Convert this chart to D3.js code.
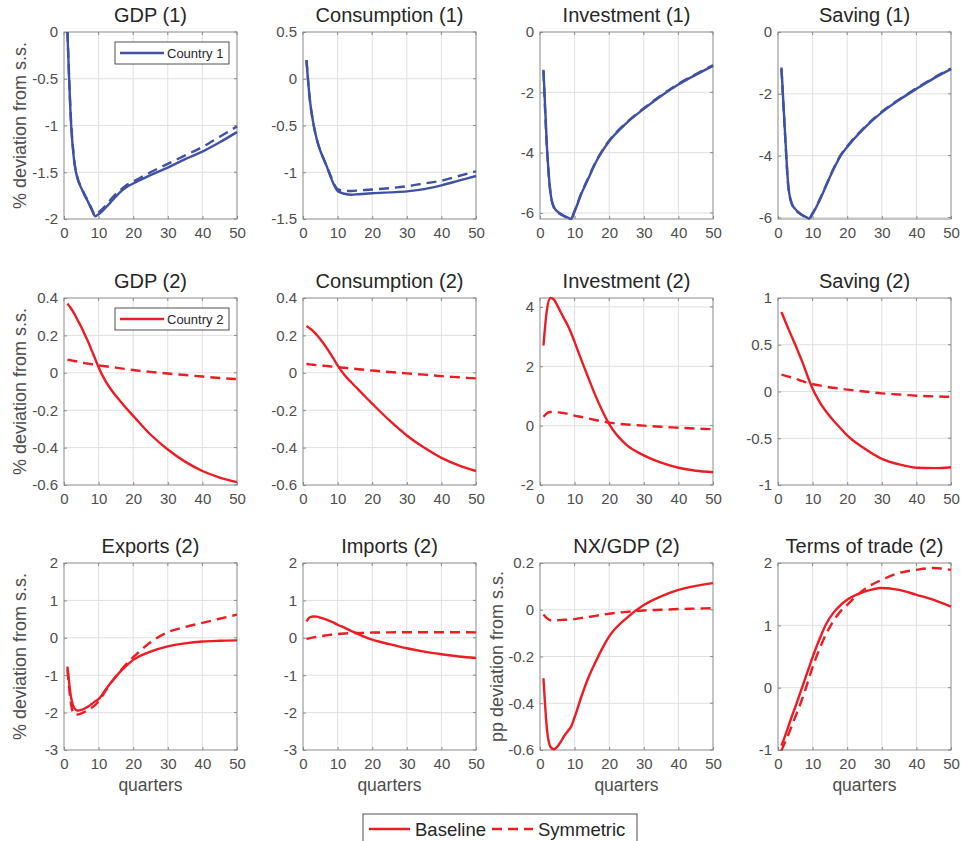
<!DOCTYPE html>
<html><head><meta charset="utf-8">
<script src="https://cdn.jsdelivr.net/npm/d3@7"></script>
<style>
body{margin:0;background:#fff;}
svg{display:block;font-family:"Liberation Sans",Arial,Helvetica,sans-serif;}
</style></head>
<body><svg id="c" width="961" height="841"></svg>
<script>
const quarters = [1,2,3,4,5,6,7,8,9,10,12,14,16,18,20,25,30,35,40,45,50];
const xTicks = [0,10,20,30,40,50];

const titles = ["GDP (1)","Consumption (1)","Investment (1)","Saving (1)",
                "GDP (2)","Consumption (2)","Investment (2)","Saving (2)",
                "Exports (2)","Imports (2)","NX/GDP (2)","Terms of trade (2)"];

const yDomains = [[-2,0],[-1.5,0.5],[-6.2,0],[-6.05,0],
                  [-0.6,0.4],[-0.6,0.4],[-2,4.3],[-1,1],
                  [-3,2],[-3,2],[-0.6,0.2],[-1,2]];
const yTicks = [[-2,-1.5,-1,-0.5,0],[-1.5,-1,-0.5,0,0.5],[-6,-4,-2,0],[-6,-4,-2,0],
                [-0.6,-0.4,-0.2,0,0.2,0.4],[-0.6,-0.4,-0.2,0,0.2,0.4],[-2,0,2,4],[-1,-0.5,0,0.5,1],
                [-3,-2,-1,0,1,2],[-3,-2,-1,0,1,2],[-0.6,-0.4,-0.2,0,0.2],[-1,0,1,2]];

// Baseline (solid)
const gdp1Base  = [0,-0.95,-1.4,-1.58,-1.67,-1.75,-1.82,-1.9,-1.97,-1.95,-1.88,-1.8,-1.72,-1.66,-1.62,-1.53,-1.45,-1.36,-1.28,-1.18,-1.07];
const cons1Base = [0.2,-0.23,-0.48,-0.65,-0.77,-0.86,-0.95,-1.05,-1.14,-1.2,-1.23,-1.24,-1.235,-1.23,-1.225,-1.215,-1.205,-1.18,-1.14,-1.09,-1.04];
const inv1Base  = [-1.25,-3.8,-5.3,-5.8,-5.95,-6.03,-6.1,-6.15,-6.2,-5.95,-5.35,-4.85,-4.35,-3.95,-3.62,-3.02,-2.55,-2.12,-1.74,-1.42,-1.12];
const sav1Base  = [-1.15,-3.2,-5.0,-5.55,-5.73,-5.84,-5.92,-5.98,-6.04,-5.88,-5.45,-4.95,-4.45,-4.02,-3.72,-3.1,-2.6,-2.2,-1.84,-1.5,-1.2];
const gdp2Base  = [0.37,0.345,0.315,0.28,0.245,0.205,0.165,0.12,0.075,0.03,-0.045,-0.1,-0.145,-0.19,-0.23,-0.33,-0.41,-0.475,-0.525,-0.56,-0.585];
const cons2Base = [0.25,0.237,0.222,0.202,0.18,0.155,0.128,0.1,0.07,0.04,-0.012,-0.052,-0.09,-0.128,-0.165,-0.255,-0.335,-0.4,-0.455,-0.495,-0.525];
const inv2Base  = [2.7,3.9,4.3,4.25,4.05,3.82,3.6,3.38,3.12,2.82,2.2,1.6,1.02,0.5,0.05,-0.65,-1.0,-1.25,-1.42,-1.52,-1.57];
const sav2Base  = [0.85,0.76,0.67,0.585,0.5,0.41,0.32,0.22,0.12,0.03,-0.11,-0.22,-0.31,-0.39,-0.47,-0.61,-0.72,-0.78,-0.815,-0.82,-0.81];
const exp2Base  = [-0.77,-1.57,-1.88,-1.95,-1.93,-1.89,-1.84,-1.77,-1.7,-1.64,-1.39,-1.15,-0.93,-0.75,-0.59,-0.37,-0.23,-0.15,-0.1,-0.08,-0.07];
const imp2Base  = [0.44,0.55,0.57,0.565,0.54,0.51,0.48,0.44,0.4,0.35,0.27,0.18,0.1,0.02,-0.05,-0.17,-0.28,-0.37,-0.44,-0.5,-0.54];
const nx2Base   = [-0.293,-0.51,-0.586,-0.597,-0.586,-0.565,-0.54,-0.52,-0.5,-0.46,-0.37,-0.29,-0.225,-0.165,-0.114,-0.036,0.02,0.057,0.085,0.102,0.114];
const tot2Base  = [-0.93,-0.78,-0.62,-0.46,-0.31,-0.15,0.01,0.17,0.33,0.49,0.78,1.03,1.2,1.32,1.41,1.54,1.6,1.57,1.49,1.41,1.3];

// Symmetric (dashed)
const gdp1Sym  = [0,-0.93,-1.38,-1.57,-1.66,-1.74,-1.81,-1.89,-1.96,-1.93,-1.86,-1.77,-1.7,-1.64,-1.6,-1.5,-1.41,-1.32,-1.23,-1.12,-1.01];
const cons1Sym = [0.2,-0.23,-0.48,-0.65,-0.77,-0.86,-0.95,-1.04,-1.13,-1.18,-1.2,-1.2,-1.195,-1.19,-1.185,-1.17,-1.15,-1.12,-1.09,-1.04,-0.99];
const inv1Sym  = [-1.3,-3.85,-5.32,-5.82,-5.97,-6.05,-6.11,-6.16,-6.18,-5.93,-5.33,-4.83,-4.33,-3.93,-3.6,-3.0,-2.53,-2.1,-1.72,-1.4,-1.1];
const sav1Sym  = [-1.2,-3.25,-5.03,-5.57,-5.75,-5.85,-5.93,-5.99,-6.02,-5.86,-5.43,-4.93,-4.43,-4.0,-3.7,-3.08,-2.58,-2.18,-1.82,-1.48,-1.18];
const gdp2Sym  = [0.07,0.067,0.063,0.06,0.056,0.052,0.049,0.046,0.043,0.04,0.035,0.03,0.025,0.02,0.015,0.005,-0.004,-0.012,-0.02,-0.028,-0.034];
const cons2Sym = [0.047,0.045,0.043,0.041,0.04,0.038,0.036,0.034,0.032,0.03,0.027,0.023,0.019,0.016,0.012,0.004,-0.003,-0.01,-0.018,-0.024,-0.03];
const inv2Sym  = [0.3,0.42,0.46,0.46,0.45,0.44,0.42,0.4,0.37,0.34,0.29,0.24,0.19,0.14,0.1,0.04,0.0,-0.04,-0.07,-0.1,-0.12];
const sav2Sym  = [0.18,0.17,0.16,0.15,0.14,0.125,0.11,0.1,0.09,0.08,0.065,0.05,0.04,0.03,0.02,0.0,-0.02,-0.032,-0.045,-0.052,-0.057];
const exp2Sym  = [-0.85,-1.75,-2.05,-2.05,-2.02,-1.98,-1.93,-1.87,-1.8,-1.7,-1.42,-1.15,-0.92,-0.7,-0.52,-0.12,0.15,0.29,0.4,0.51,0.62];
const imp2Sym  = [-0.03,-0.01,0.01,0.025,0.04,0.055,0.07,0.08,0.09,0.1,0.115,0.125,0.13,0.135,0.14,0.145,0.15,0.15,0.15,0.148,0.145];
const nx2Sym   = [-0.02,-0.036,-0.045,-0.046,-0.045,-0.044,-0.043,-0.042,-0.041,-0.04,-0.035,-0.031,-0.026,-0.021,-0.017,-0.009,-0.003,0.0,0.003,0.005,0.007];
const tot2Sym  = [-1.01,-0.88,-0.75,-0.61,-0.47,-0.33,-0.18,-0.02,0.16,0.33,0.62,0.87,1.07,1.22,1.33,1.58,1.73,1.84,1.89,1.92,1.89];

const baseSeries = [gdp1Base,cons1Base,inv1Base,sav1Base,gdp2Base,cons2Base,inv2Base,sav2Base,exp2Base,imp2Base,nx2Base,tot2Base];
const symSeries  = [gdp1Sym,cons1Sym,inv1Sym,sav1Sym,gdp2Sym,cons2Sym,inv2Sym,sav2Sym,exp2Sym,imp2Sym,nx2Sym,tot2Sym];

const yLabels = {0:"% deviation from s.s.",4:"% deviation from s.s.",8:"% deviation from s.s.",10:"pp deviation from s.s."};
const legendNames = ["Country 1","Country 2"];
const bottomLegend = ["Baseline","Symmetric"];

const BLUE = "#4051a3", RED = "#ec1c24";
const TXT = "#4d4d4d", AX = "#8a8a8a", GRID = "#e0e0e0";

const lefts = [64,303,540,778], tops = [32,298,563];
const W = 173, H = 187;
const svg = d3.select("#c");
const fmt = v => String(+v.toFixed(2));

for (let i = 0; i < 12; i++) {
  const r = Math.floor(i/4), c = i%4;
  const color = r === 0 ? BLUE : RED;
  const g = svg.append("g").attr("transform",`translate(${lefts[c]},${tops[r]})`);
  const x = d3.scaleLinear().domain([0,50]).range([0,W]);
  const y = d3.scaleLinear().domain(yDomains[i]).range([H,0]);

  // grid
  g.append("g").selectAll("line").data(xTicks.filter(t=>t>0&&t<50)).join("line")
    .attr("x1",d=>x(d)).attr("x2",d=>x(d)).attr("y1",0).attr("y2",H)
    .attr("stroke",GRID).attr("stroke-width",1);
  g.append("g").selectAll("line").data(yTicks[i].filter(t=>y(t)>1&&y(t)<H-1)).join("line")
    .attr("x1",0).attr("x2",W).attr("y1",d=>y(d)).attr("y2",d=>y(d))
    .attr("stroke",GRID).attr("stroke-width",1);

  // axes
  const xa = g.append("g").attr("transform",`translate(0,${H})`)
    .call(d3.axisBottom(x).tickValues(xTicks).tickSize(-3).tickPadding(8).tickFormat(d=>d));
  const ya = g.append("g")
    .call(d3.axisLeft(y).tickValues(yTicks[i]).tickSize(-3).tickPadding(6).tickFormat(fmt));
  for (const a of [xa,ya]) {
    a.select(".domain").remove();
    a.selectAll("line").attr("stroke",AX);
    a.selectAll("text").attr("fill",TXT).style("font-size","15px");
  }
  // right/top ticks
  g.append("g").selectAll("line").data(yTicks[i]).join("line")
    .attr("x1",W).attr("x2",W-3).attr("y1",d=>y(d)).attr("y2",d=>y(d)).attr("stroke",AX);
  g.append("g").selectAll("line").data(xTicks).join("line")
    .attr("x1",d=>x(d)).attr("x2",d=>x(d)).attr("y1",0).attr("y2",3).attr("stroke",AX);
  g.append("rect").attr("width",W).attr("height",H).attr("fill","none")
    .attr("stroke",AX).attr("stroke-width",1);

  // lines
  const line = d3.line().x((d,k)=>x(quarters[k])).y(d=>y(d)).curve(d3.curveMonotoneX);
  const clipId = "clip"+i;
  g.append("clipPath").attr("id",clipId).append("rect").attr("x",-1).attr("y",-2).attr("width",W+2).attr("height",H+4);
  const lg = g.append("g").attr("clip-path",`url(#${clipId})`);
  lg.append("path").attr("d",line(symSeries[i])).attr("fill","none").attr("stroke",color)
    .attr("stroke-width",2.4).attr("stroke-dasharray","10,6");
  lg.append("path").attr("d",line(baseSeries[i])).attr("fill","none").attr("stroke",color)
    .attr("stroke-width",2.4);

  // title
  g.append("text").attr("x",W/2).attr("y",-10).attr("text-anchor","middle")
    .attr("fill","#262626").style("font-size","20px").text(titles[i]);
  if (r === 2) {
    g.append("text").attr("x",W/2).attr("y",H+41).attr("text-anchor","middle")
      .attr("fill",TXT).style("font-size","17.5px").text("quarters");
  }
  if (yLabels[i]) {
    const lx = c === 0 ? -38.5 : -37.5;
    g.append("text").attr("transform",`translate(${lx},${H/2}) rotate(-90)`)
      .attr("text-anchor","middle").attr("fill",TXT).style("font-size","18px").text(yLabels[i]);
  }
  if (c === 0 && r < 2) {
    const lgd = g.append("g").attr("transform","translate(51,10)");
    lgd.append("rect").attr("width",114).attr("height",22).attr("fill","#fff").attr("stroke","#262626").attr("stroke-width",0.8);
    lgd.append("line").attr("x1",5).attr("x2",49).attr("y1",11).attr("y2",11).attr("stroke",color).attr("stroke-width",2.4);
    lgd.append("text").attr("x",52).attr("y",15.5).attr("fill","#262626").style("font-size","13px").text(legendNames[r]);
  }
}

// bottom legend
const bl = svg.append("g").attr("transform","translate(363,814)");
bl.append("rect").attr("width",274).attr("height",30).attr("fill","#fff").attr("stroke","#262626").attr("stroke-width",0.8);
bl.append("line").attr("x1",6).attr("x2",47).attr("y1",15).attr("y2",15).attr("stroke",RED).attr("stroke-width",2.4);
bl.append("text").attr("x",52).attr("y",21.5).attr("fill","#262626").style("font-size","18.5px").text(bottomLegend[0]);
bl.append("line").attr("x1",129).attr("x2",170).attr("y1",15).attr("y2",15).attr("stroke",RED).attr("stroke-width",2.4).attr("stroke-dasharray","10,6");
bl.append("text").attr("x",175).attr("y",21.5).attr("fill","#262626").style("font-size","18.5px").text(bottomLegend[1]);
</script>
</body></html>
